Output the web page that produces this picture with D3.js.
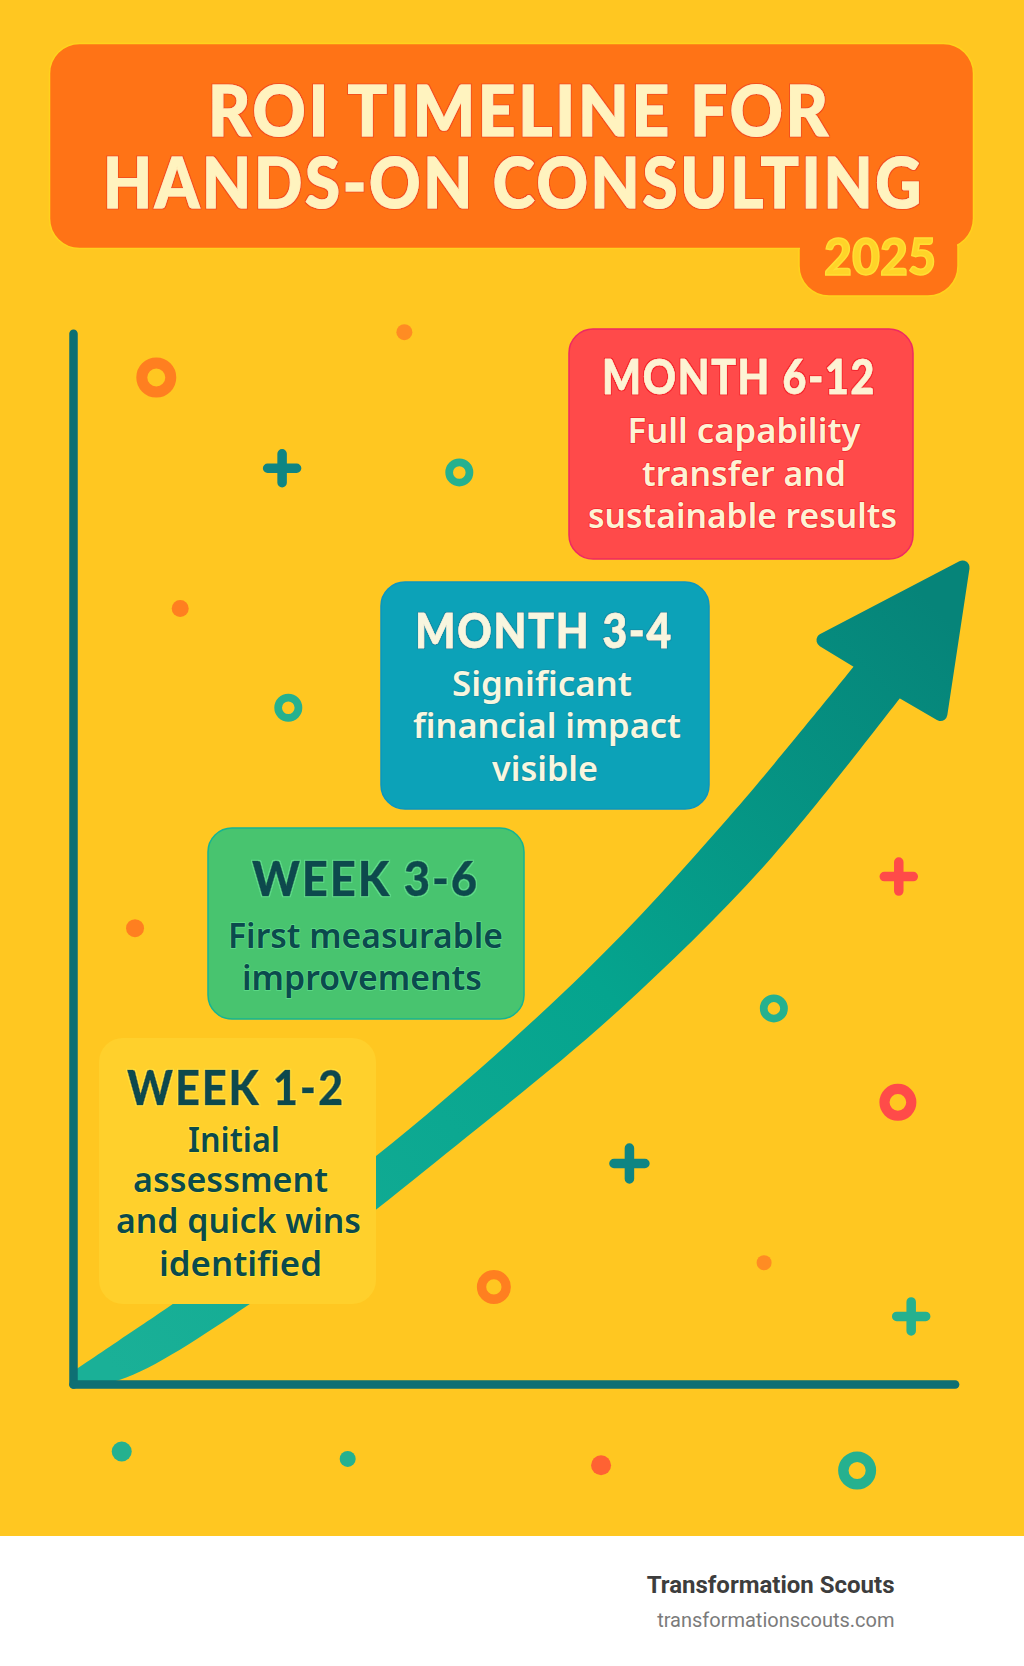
<!DOCTYPE html>
<html>
<head>
<meta charset="utf-8">
<title>ROI Timeline</title>
<script src="https://cdn.jsdelivr.net/npm/d3@7"></script>
<style>
body { margin: 0; background: #fff; }
svg { display: block; }
</style>
</head>
<body>
<div id="chart"></div>
<script>
// text
var titleLines = ["ROI TIMELINE FOR", "HANDS-ON CONSULTING"];
var yearLabel = "2025";
var periods = ["WEEK 1-2", "WEEK 3-6", "MONTH 3-4", "MONTH 6-12"];
var details = [
    ["Initial", "assessment", "and quick wins", "identified"],
    ["First measurable", "improvements"],
    ["Significant", "financial impact", "visible"],
    ["Full capability", "transfer and", "sustainable results"]
];
var brand = "Transformation Scouts";
var brandUrl = "transformationscouts.com";

// growth arrow in percent of the axes
var shaftUpperX = [0, 5.3, 11.3, 34.2, 57.7, 73.8, 88.3];
var shaftUpperY = [1.2, 4.2, 7.6, 21.6, 39.0, 53.5, 68.2];
var shaftLowerX = [0, 5.3, 20.0, 45.6, 61.7, 77.9, 93.6];
var shaftLowerY = [0, 0.4, 7.6, 24.2, 35.5, 49.0, 65.3];
var headX = [88.6, 84.7, 100.4, 97.9, 93.2];
var headY = [68.5, 70.5, 77.4, 63.5, 65.8];

// scattered decorations
var ringX = [9.4, 43.6, 24.3, 79.1, 93.1, 47.5, 88.5];
var ringY = [95.4, 86.4, 64.1, 35.6, 26.7, 9.2, -8.2];
var ringWeight = [10, 7, 7, 7, 9.25, 8.5, 9.5];
var ringTone = ["orange", "green", "green", "green", "red", "orange", "green"];

var dotX = [37.4, 12.1, 7.0, 78.0, 5.5, 31.0, 59.6];
var dotY = [99.7, 73.5, 43.2, 11.5, -6.4, -7.1, -7.7];
var dotWeight = [4, 4.25, 4.5, 3.75, 5, 4, 5];
var dotTone = ["amber", "orange", "orange", "amber", "green", "green", "coral"];

var plusX = [23.6, 93.2, 62.8, 94.6];
var plusY = [86.8, 48.1, 20.9, 6.4];
var plusWeight = [9.5, 9.5, 10, 9.5];
var plusTone = ["teal", "red", "teal", "green"];

var tones = { orange: "#ff7f20", amber: "#ff8c23", green: "#25b18f", red: "#ff4b49", coral: "#ff6233", teal: "#0f8583" };

var width = 1024, height = 1666;

var svg = d3.select("#chart").append("svg")
    .attr("width", width)
    .attr("height", height);

var x = d3.scaleLinear().domain([0, 99.5]).range([73, 954.6]);
var y = d3.scaleLinear().domain([0, 99.6]).range([1384, 333.2]);
var weight = d3.scaleLinear().domain([0, 10]).range([0, 20]);

var defs = svg.append("defs");

// thin outline round the heavy lettering
function outlineFilter(id, colour) {
    var f = defs.append("filter").attr("id", id);
    f.append("feMorphology").attr("in", "SourceAlpha").attr("operator", "dilate").attr("radius", 1).attr("result", "fat");
    f.append("feFlood").attr("flood-color", colour).attr("result", "tint");
    f.append("feComposite").attr("in", "tint").attr("in2", "fat").attr("operator", "in").attr("result", "edge");
    var m = f.append("feMerge");
    m.append("feMergeNode").attr("in", "edge");
    m.append("feMergeNode").attr("in", "SourceGraphic");
}

// background and footer
svg.append("rect").attr("width", width).attr("height", 1536).attr("fill", "#ffc721");
svg.append("rect").attr("y", 1536).attr("width", width).attr("height", 130).attr("fill", "#fff");

// header banner
var headerStroke = "#ffd21e";
svg.append("rect")
    .attr("x", 799).attr("y", 200).attr("width", 159).attr("height", 96).attr("rx", 30)
    .attr("fill", "#ff7316").attr("stroke", headerStroke).attr("stroke-width", 1.5);
svg.append("rect")
    .attr("x", 49.5).attr("y", 43.5).attr("width", 924).attr("height", 205).attr("rx", 30)
    .attr("fill", "#ff7316").attr("stroke", headerStroke).attr("stroke-width", 1.5);
svg.append("rect")
    .attr("x", 800).attr("y", 235).attr("width", 157).attr("height", 20)
    .attr("fill", "#ff7316");

outlineFilter("titleEdge", "#f4511e");
var titleFit = [[519.5, 135.5, 623], [513.5, 207.5, 821]];
svg.selectAll(".title")
    .data(titleLines)
    .enter().append("text")
    .attr("class", "title")
    .attr("x", function (d, i) { return titleFit[i][0]; })
    .attr("y", function (d, i) { return titleFit[i][1]; })
    .attr("textLength", function (d, i) { return titleFit[i][2]; })
    .attr("lengthAdjust", "spacingAndGlyphs")
    .attr("text-anchor", "middle")
    .attr("filter", "url(#titleEdge)")
    .style("font-family", "Lato")
    .style("font-weight", 900)
    .style("font-size", "71px")
    .style("letter-spacing", "3px")
    .style("fill", "#fff3bf")
    .style("stroke", "#fff3bf")
    .style("stroke-width", 1)
    .text(function (d) { return d; });

svg.append("text")
    .attr("x", 880).attr("y", 275)
    .attr("textLength", 112)
    .attr("lengthAdjust", "spacingAndGlyphs")
    .attr("text-anchor", "middle")
    .style("font-family", "Lato")
    .style("font-weight", 900)
    .style("font-size", "51px")
    .style("fill", "#ffd428")
    .style("stroke", "#ffdf35")
    .style("stroke-width", 1.5)
    .text(yearLabel);

// arrow
var grad = defs.append("linearGradient")
    .attr("id", "arrowFill")
    .attr("gradientUnits", "userSpaceOnUse")
    .attr("x1", x(5)).attr("y1", y(1))
    .attr("x2", x(97)).attr("y2", y(74));
grad.append("stop").attr("offset", 0).attr("stop-color", "#1ab097");
grad.append("stop").attr("offset", 0.55).attr("stop-color", "#05a48e");
grad.append("stop").attr("offset", 1).attr("stop-color", "#068479");

var shaft = d3.area()
    .x0(function (i) { return x(shaftLowerX[i]); })
    .y0(function (i) { return y(shaftLowerY[i]); })
    .x1(function (i) { return x(shaftUpperX[i]); })
    .y1(function (i) { return y(shaftUpperY[i]); })
    .curve(d3.curveCatmullRom);

svg.append("path")
    .attr("d", shaft(d3.range(shaftUpperX.length)))
    .attr("fill", "url(#arrowFill)");

svg.append("polygon")
    .attr("points", headX.map(function (d, i) { return x(d) + "," + y(headY[i]); }).join(" "))
    .attr("fill", "url(#arrowFill)")
    .attr("stroke", "url(#arrowFill)")
    .attr("stroke-width", 14)
    .attr("stroke-linejoin", "round");

// axes, plain lines with no ticks
var axisLeft = svg.append("g")
    .attr("transform", "translate(" + x(0) + ",0)")
    .call(d3.axisLeft(y).tickValues([]).tickSizeOuter(0));
var axisBottom = svg.append("g")
    .attr("transform", "translate(0," + y(0) + ")")
    .call(d3.axisBottom(x).tickValues([]).tickSizeOuter(0));
svg.selectAll(".domain")
    .attr("stroke", "#0e6f73")
    .attr("stroke-width", 8.5)
    .attr("stroke-linecap", "round");

// decorations
d3.range(ringX.length).forEach(function (i) {
    var r = weight(ringWeight[i]);
    svg.append("circle")
        .attr("class", "ring")
        .attr("cx", x(ringX[i]))
        .attr("cy", y(ringY[i]))
        .attr("r", r * 0.725)
        .attr("fill", "none")
        .attr("stroke", tones[ringTone[i]])
        .attr("stroke-width", r * 0.55);
});
d3.range(dotX.length).forEach(function (i) {
    svg.append("circle")
        .attr("class", "dot")
        .attr("cx", x(dotX[i]))
        .attr("cy", y(dotY[i]))
        .attr("r", weight(dotWeight[i]))
        .attr("fill", tones[dotTone[i]]);
});
d3.range(plusX.length).forEach(function (i) {
    var r = weight(plusWeight[i]) - 4.5, px = x(plusX[i]), py = y(plusY[i]);
    var p = d3.path();
    p.moveTo(px - r, py); p.lineTo(px + r, py);
    p.moveTo(px, py - r); p.lineTo(px, py + r);
    svg.append("path")
        .attr("class", "plus")
        .attr("d", p.toString())
        .attr("fill", "none")
        .attr("stroke", tones[plusTone[i]])
        .attr("stroke-width", 9.5)
        .attr("stroke-linecap", "round");
});

// milestone cards
var cardBox = [
    { x: 99, y: 1038, w: 277, h: 266, fill: "#ffd02c", stroke: "none", ink: "#0b4a4d", halo: "#ffe23a" },
    { x: 208, y: 828, w: 316, h: 191, fill: "#48c46f", stroke: "#14b494", ink: "#0b4a4d", halo: "#5fdc8a" },
    { x: 381, y: 582, w: 328, h: 227, fill: "#0ca2b8", stroke: "#0a96c0", ink: "#f8f6df", halo: "#1391a8" },
    { x: 569, y: 329, w: 344, h: 230, fill: "#ff4a4a", stroke: "#ee2a62", ink: "#fdf3d4", halo: "#f5262e" }
];
// centre, baseline and width of each text line
var headFit = [[236, 1105, 218], [365.5, 896, 227], [544, 648, 258], [739, 394, 274]];
var bodyFit = [
    [[234, 1152, 92], [230.5, 1192, 195], [238.5, 1233, 245], [240.5, 1276, 163]],
    [[365.5, 948, 275], [362, 990, 240]],
    [[542, 696, 180], [547, 738, 268], [545, 781, 106]],
    [[744, 443, 233], [744, 486, 204], [742.5, 528, 309]]
];

var cards = svg.selectAll(".card")
    .data(periods)
    .enter().append("g")
    .attr("class", "card");

cards.append("rect")
    .attr("x", function (d, i) { return cardBox[i].x; })
    .attr("y", function (d, i) { return cardBox[i].y; })
    .attr("width", function (d, i) { return cardBox[i].w; })
    .attr("height", function (d, i) { return cardBox[i].h; })
    .attr("rx", 24)
    .attr("fill", function (d, i) { return cardBox[i].fill; })
    .attr("stroke", function (d, i) { return cardBox[i].stroke; })
    .attr("stroke-width", 1.5);

cards.each(function (d, i) {
    var card = d3.select(this), box = cardBox[i];
    outlineFilter("cardEdge" + i, box.halo);
    card.append("text")
        .attr("x", headFit[i][0])
        .attr("y", headFit[i][1])
        .attr("textLength", headFit[i][2])
        .attr("text-anchor", "middle")
        .attr("lengthAdjust", "spacingAndGlyphs")
        .attr("filter", "url(#cardEdge" + i + ")")
        .style("font-family", "Lato")
        .style("font-weight", 900)
        .style("font-size", "48px")
        .style("letter-spacing", "2px")
        .style("fill", box.ink)
        .style("stroke", box.ink)
        .style("stroke-width", 0.5)
        .text(d);
    details[i].forEach(function (line, j) {
        card.append("text")
            .attr("x", bodyFit[i][j][0])
            .attr("y", bodyFit[i][j][1])
            .attr("textLength", bodyFit[i][j][2])
            .attr("text-anchor", "middle")
            .attr("lengthAdjust", "spacingAndGlyphs")
            .style("font-family", "Noto Sans")
            .style("font-weight", 600)
            .style("font-size", "35px")
            .style("fill", box.ink)
            .style("stroke", box.halo)
            .style("stroke-width", 1.5)
            .style("paint-order", "stroke")
            .text(line);
    });
});

// footer
svg.append("text")
    .attr("x", 894.5).attr("y", 1593)
    .attr("text-anchor", "end")
    .style("font-family", "Roboto")
    .style("font-weight", 700)
    .style("font-size", "24px")
    .style("fill", "#3d3d3d")
    .text(brand);
svg.append("text")
    .attr("x", 894.5).attr("y", 1627)
    .attr("text-anchor", "end")
    .style("font-family", "Roboto")
    .style("font-size", "20px")
    .style("fill", "#7b7b7b")
    .text(brandUrl);
</script>
</body>
</html>
